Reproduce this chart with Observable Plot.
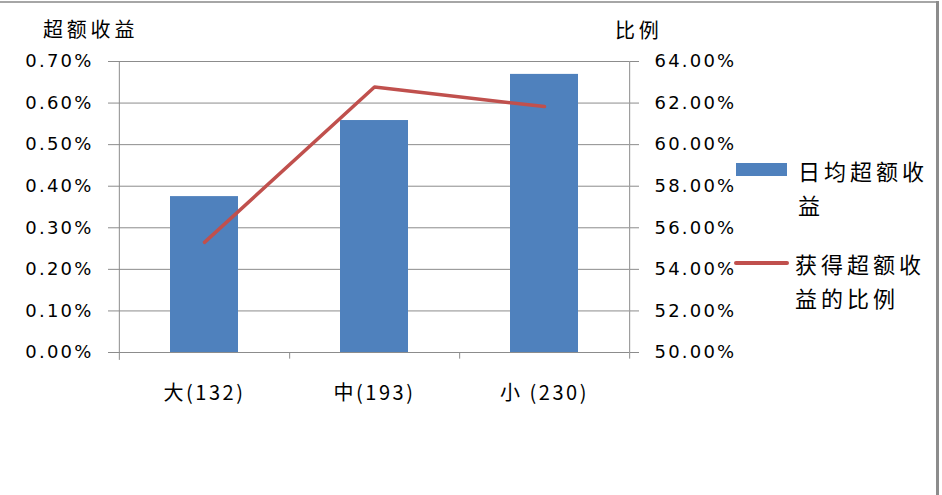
<!DOCTYPE html>
<html>
<head>
<meta charset="utf-8">
<script src="https://cdn.jsdelivr.net/npm/d3@7"></script>
<script src="https://cdn.jsdelivr.net/npm/@observablehq/plot@0.6"></script>
<style>
  html, body { margin: 0; padding: 0; background: #fff; }
  #wrap { position: relative; width: 942px; height: 495px; overflow: hidden; background: #fff; }
  #chart { position: absolute; left: 0; top: 0; }
  .t { position: absolute; font-family: "Noto Sans CJK SC", sans-serif; color: #000; white-space: nowrap; }
  g[aria-label="y-axis tick label"] text { letter-spacing: 2.2px; }
  g[aria-label="x-axis tick label"] text { letter-spacing: 2.5px; }
  .border-top { position: absolute; left: 0; top: 1px; width: 938px; height: 2px; background: #a6a6a6; }
  .border-right { position: absolute; left: 936px; top: 1px; width: 3px; height: 494px; background: #8c8c8c; }
</style>
</head>
<body>
<div id="wrap">
  <div class="border-top"></div>
  <div class="border-right"></div>
  <div id="chart"></div>
  <div class="t" style="left:43px;top:14px;font-size:20px;letter-spacing:3.8px;">超额收益</div>
  <div class="t" style="left:615px;top:15px;font-size:20px;letter-spacing:3.8px;">比例</div>
  <div style="position:absolute;left:736px;top:163px;width:51px;height:13px;background:#4F81BD;"></div>
  <div class="t" style="left:798px;top:153px;font-size:22px;letter-spacing:4px;line-height:34px;">日均超额收<br>益</div>
  <div style="position:absolute;left:734px;top:261px;width:55px;height:4px;background:#C0504D;border-radius:2px;"></div>
  <div class="t" style="left:795px;top:246px;font-size:22px;letter-spacing:4px;line-height:34px;">获得超额收<br>益的比例</div>
</div>
<script>
// Data
const categories = ["大(132)", "中(193)", "小 (230)"];
const excessReturn = [0.375, 0.558, 0.669];      // 日均超额收益 (%)
const winRatio = [55.3, 62.77, 61.83];           // 获得超额收益的比例 (%)
const leftTicks = [0, 0.1, 0.2, 0.3, 0.4, 0.5, 0.6, 0.7];
const rightTicks = [50, 52, 54, 56, 58, 60, 62, 64];

// right axis mapping onto the left scale
const rMin = 50, rMax = 64, lMax = 0.7;
const toLeft = v => (v - rMin) / (rMax - rMin) * lMax;
const fromLeft = v => rMin + v / lMax * (rMax - rMin);

const barData = categories.map((c, i) => ({cat: c, v: excessReturn[i]}));
const lineData = categories.map((c, i) => ({cat: c, v: toLeft(winRatio[i])}));

const W = 942, H = 495;
const mL = 118, mR = W - 629, mT = 61, mB = H - 352;
const step = (W - mL - mR) / 3;

const chart = Plot.plot({
  width: W,
  height: H,
  marginLeft: mL,
  marginRight: mR,
  marginTop: mT,
  marginBottom: mB,
  style: {fontFamily: "DejaVu Sans, sans-serif", fontSize: "18px", color: "#000", background: "transparent", overflow: "visible"},
  x: {domain: categories, paddingInner: 0.6, paddingOuter: 0.3},
  y: {domain: [0, lMax]},
  marks: [
    Plot.gridY(leftTicks, {stroke: "#8c8c8c", strokeOpacity: 1, strokeWidth: 1}),
    Plot.axisY(leftTicks, {
      anchor: "left", tickSize: 10, tickPadding: 15, stroke: "#8c8c8c",
      tickFormat: d => d.toFixed(2) + "%", fontFamily: "DejaVu Sans", fontSize: 18, label: null
    }),
    Plot.axisY(rightTicks.map(toLeft), {
      anchor: "right", tickSize: 9, tickPadding: 16, stroke: "#8c8c8c",
      tickFormat: d => fromLeft(d).toFixed(2) + "%", fontFamily: "DejaVu Sans", fontSize: 18, label: null
    }),
    Plot.barY(barData, {x: "cat", y: "v", fill: "#4F81BD"}),
    Plot.ruleY([0], {stroke: "#8c8c8c"}),
    Plot.ruleX([0, lMax].length ? [categories[0]] : [], {x: d => d, dx: -step / 2, y1: -0.019, y2: lMax, stroke: "#8c8c8c"}),
    Plot.ruleX(categories.slice(0, 2), {x: d => d, dx: step / 2, y1: -0.016, y2: 0, stroke: "#8c8c8c"}),
    Plot.ruleX([categories[2]], {x: d => d, dx: step / 2, y1: -0.016, y2: lMax, stroke: "#8c8c8c"}),
    Plot.line(lineData, {x: "cat", y: "v", stroke: "#C0504D", strokeWidth: 3.5, strokeLinecap: "round", strokeLinejoin: "round"}),
    Plot.axisX({
      anchor: "bottom", tickSize: 0, tickPadding: 33, label: null,
      fontFamily: "Noto Sans CJK SC", fontSize: 20
    })
  ]
});
document.getElementById("chart").appendChild(chart);
</script>
</body>
</html>
